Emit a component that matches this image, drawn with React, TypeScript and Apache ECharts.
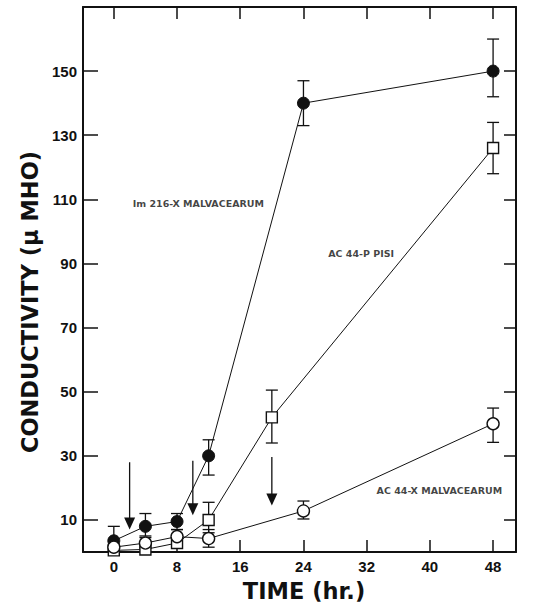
import React, { useEffect, useRef } from "react";
import * as echarts from "echarts";

// ---- data ----
const xTicks = [0, 8, 16, 24, 32, 40, 48];
const yTicks = [10, 30, 50, 70, 90, 110, 130, 150];

const imHours = [0, 4, 8, 12, 24, 48];
const imValues = [3.5, 8, 9.5, 30, 140, 150];
const imLow = [0.5, 5, 7, 24, 133, 142];
const imHigh = [8, 12, 12, 35, 147, 160];

const pisiHours = [0, 4, 8, 12, 20, 48];
const pisiValues = [0.5, 0.8, 2.8, 10, 42, 126];
const pisiLow = [0, 0, 1.2, 6, 34, 118];
const pisiHigh = [1.5, 1.5, 4.5, 15.5, 50.5, 134];

const acxHours = [0, 4, 8, 12, 24, 48];
const acxValues = [1.5, 2.8, 4.8, 4.2, 12.8, 40];
const acxLow = [0.5, 1.2, 2, 1.5, 10.3, 34.2];
const acxHigh = [2.5, 4.5, 7, 7, 15.9, 44.9];

const arrowX = [2, 10, 20];
const arrowTop = [28, 28.5, 29.6];
const arrowTip = [7, 11.5, 14.5];

const labelNames = ["Im 216-X MALVACEARUM", "AC 44-P PISI", "AC 44-X MALVACEARUM"];
const labelX = [10.7, 31.3, 41.2];
const labelY = [108.6, 93, 19.3];

const xTitle = "TIME (hr.)";
const yTitle = "CONDUCTIVITY (\u03bc MHO)";

const FONT = "Liberation Sans, Arial, Helvetica, sans-serif";
const WIDE = "DejaVu Sans, Verdana, sans-serif";

function errorSeries(hours: number[], lo: number[], hi: number[]) {
  return {
    type: "custom",
    silent: true,
    z: 3,
    data: hours.map((h, i) => [h, lo[i], hi[i]]),
    renderItem: (params: any, api: any) => {
      const x = api.value(0);
      const p1 = api.coord([x, api.value(1)]);
      const p2 = api.coord([x, api.value(2)]);
      const w = 6;
      const style = { stroke: "#111", lineWidth: 1.3 };
      return {
        type: "group",
        children: [
          { type: "line", shape: { x1: p1[0], y1: p1[1], x2: p2[0], y2: p2[1] }, style },
          { type: "line", shape: { x1: p1[0] - w, y1: p1[1], x2: p1[0] + w, y2: p1[1] }, style },
          { type: "line", shape: { x1: p2[0] - w, y1: p2[1], x2: p2[0] + w, y2: p2[1] }, style },
        ],
      };
    },
  };
}

export default function App() {
  const ref = useRef<HTMLDivElement>(null);
  useEffect(() => {
    document.body.style.margin = "0";
    const chart = echarts.init(ref.current!, null, { renderer: "svg" });
    const tickLabelStyle = { fontFamily: FONT, fontWeight: "bold" as const, fontSize: 15, color: "#111" };
    const axisLine = { show: true, onZero: false, lineStyle: { color: "#111", width: 2 } };
    chart.setOption({
      animation: false,
      backgroundColor: "#fff",
      grid: { left: 83, right: 19, top: 7, bottom: 55 },
      graphic: [
        {
          type: "text",
          x: 29.5,
          y: 302,
          rotation: Math.PI / 2,
          style: {
            text: yTitle,
            fontFamily: WIDE,
            fontWeight: "bold",
            fontSize: 22.5,
            fill: "#111",
            align: "center",
            verticalAlign: "middle",
          },
        },
        {
          type: "text",
          x: 304,
          y: 591,
          style: {
            text: xTitle,
            fontFamily: WIDE,
            fontWeight: "bold",
            fontSize: 22.5,
            fill: "#111",
            align: "center",
            verticalAlign: "middle",
          },
        },
      ],
      xAxis: [
        {
          type: "value",
          min: -3.9,
          max: 50.9,
          position: "bottom",
          axisLine,
          axisTick: { show: true, inside: true, length: 12, customValues: xTicks, lineStyle: { color: "#111", width: 1.5 } },
          axisLabel: { ...tickLabelStyle, margin: 7, customValues: xTicks },
          splitLine: { show: false },
        },
        {
          type: "value",
          min: -3.9,
          max: 50.9,
          position: "top",
          axisLine,
          axisTick: { show: true, inside: true, length: 12, customValues: xTicks, lineStyle: { color: "#111", width: 1.5 } },
          axisLabel: { show: false },
          splitLine: { show: false },
        },
      ],
      yAxis: [
        {
          type: "value",
          min: 0,
          max: 170,
          position: "left",
          axisLine,
          axisTick: { show: true, inside: true, length: 15, customValues: yTicks, lineStyle: { color: "#111", width: 1.5 } },
          axisLabel: { ...tickLabelStyle, margin: 6, customValues: yTicks },
          splitLine: { show: false },
        },
        {
          type: "value",
          min: 0,
          max: 170,
          position: "right",
          axisLine,
          axisTick: { show: true, inside: true, length: 12, customValues: yTicks, lineStyle: { color: "#111", width: 1.5 } },
          axisLabel: { show: false },
          splitLine: { show: false },
        },
      ],
      series: [
        errorSeries(imHours, imLow, imHigh),
        errorSeries(pisiHours, pisiLow, pisiHigh),
        errorSeries(acxHours, acxLow, acxHigh),
        {
          type: "line",
          name: "Im 216-X MALVACEARUM",
          z: 4,
          data: imHours.map((h, i) => [h, imValues[i]]),
          symbol: "circle",
          symbolSize: 12,
          itemStyle: { color: "#111", borderColor: "#111", borderWidth: 1 },
          lineStyle: { color: "#111", width: 1 },
        },
        {
          type: "line",
          name: "AC 44-P PISI",
          z: 5,
          data: pisiHours.map((h, i) => [h, pisiValues[i]]),
          symbol: "rect",
          symbolSize: 11,
          itemStyle: { color: "#fff", borderColor: "#111", borderWidth: 1.4 },
          lineStyle: { color: "#111", width: 1 },
        },
        {
          type: "line",
          name: "AC 44-X MALVACEARUM",
          z: 6,
          data: acxHours.map((h, i) => [h, acxValues[i]]),
          symbol: "circle",
          symbolSize: 12,
          itemStyle: { color: "#fff", borderColor: "#111", borderWidth: 1.4 },
          lineStyle: { color: "#111", width: 1 },
        },
        {
          type: "custom",
          silent: true,
          z: 7,
          data: arrowX.map((x, i) => [x, arrowTop[i], arrowTip[i]]),
          renderItem: (params: any, api: any) => {
            const x = api.value(0);
            const top = api.coord([x, api.value(1)]);
            const tip = api.coord([x, api.value(2)]);
            const headH = 12;
            const headW = 5.5;
            return {
              type: "group",
              children: [
                {
                  type: "line",
                  shape: { x1: top[0], y1: top[1], x2: tip[0], y2: tip[1] - headH + 1 },
                  style: { stroke: "#111", lineWidth: 1.3 },
                },
                {
                  type: "polygon",
                  shape: {
                    points: [
                      [tip[0] - headW, tip[1] - headH],
                      [tip[0] + headW, tip[1] - headH],
                      [tip[0], tip[1]],
                    ],
                  },
                  style: { fill: "#111" },
                },
              ],
            };
          },
        },
        {
          type: "scatter",
          silent: true,
          z: 8,
          symbolSize: 0,
          data: labelNames.map((n, i) => ({ value: [labelX[i], labelY[i]], name: n })),
          label: {
            show: true,
            position: "inside",
            formatter: (p: any) => p.name,
            fontFamily: WIDE,
            fontWeight: "bold",
            fontSize: 9.5,
            color: "#111",
          },
        },
      ],
    });
    return () => chart.dispose();
  }, []);
  return <div ref={ref} style={{ width: 535, height: 607 }} />;
}
